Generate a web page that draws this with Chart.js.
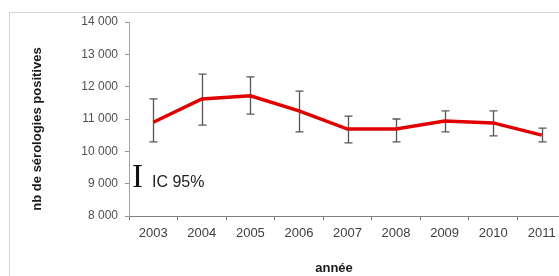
<!DOCTYPE html>
<html>
<head>
<meta charset="utf-8">
<script src="https://cdn.jsdelivr.net/npm/chart.js@4"></script>
<style>
  html, body { margin: 0; padding: 0; background: #fff; overflow: hidden; }
  #wrap { width: 600px; height: 276px; }
</style>
</head>
<body>
<div id="wrap"><canvas id="c" width="600" height="276"></canvas></div>
<script>
// Positive serologies per year, with 95% confidence interval bounds
const years = ['2003', '2004', '2005', '2006', '2007', '2008', '2009', '2010', '2011'];
const seroCounts = [10900, 11620, 11720, 11250, 10690, 10690, 10940, 10880, 10500];
const ciLow = [10290, 10810, 11150, 10600, 10260, 10290, 10600, 10480, 10290];
const ciHigh = [11620, 12390, 12300, 11860, 11090, 11000, 11250, 11250, 10720];
const yTicks = [8000, 9000, 10000, 11000, 12000, 13000, 14000];

const yTitle = 'nb de sérologies positives';
const xTitle = 'année';
const ciLabel = 'IC 95%';

const fmt = v => String(v).replace(/\B(?=(\d{3})+$)/, ' ');

// frame, titles, CI legend and the error bars (drawn under the line)
const extras = {
  id: 'extras',
  beforeDraw(chart) {
    const ctx = chart.ctx;
    ctx.save();
    ctx.strokeStyle = '#d4d4d4';
    ctx.lineWidth = 1;
    ctx.strokeRect(9.5, 12.5, 800, 400);
    ctx.restore();
  },
  beforeDatasetsDraw(chart) {
    const ctx = chart.ctx;
    const xs = chart.scales.x, ys = chart.scales.y;
    ctx.save();
    ctx.strokeStyle = '#555';
    ctx.lineWidth = 1.3;
    years.forEach((_, i) => {
      const x = Math.round(xs.getPixelForValue(i)) + 0.5;
      const lo = ys.getPixelForValue(ciLow[i]);
      const hi = ys.getPixelForValue(ciHigh[i]);
      ctx.beginPath();
      ctx.moveTo(x, lo); ctx.lineTo(x, hi);
      ctx.moveTo(x - 4, lo); ctx.lineTo(x + 4, lo);
      ctx.moveTo(x - 4, hi); ctx.lineTo(x + 4, hi);
      ctx.stroke();
    });
    ctx.restore();
  },
  afterDraw(chart) {
    const ctx = chart.ctx;
    ctx.save();
    ctx.fillStyle = '#1a1a1a';
    ctx.textAlign = 'center';
    ctx.textBaseline = 'middle';
    ctx.font = 'bold 13px "Liberation Sans", Arial, sans-serif';
    ctx.fillText(xTitle, 334, 268);
    ctx.translate(37, 129);
    ctx.rotate(-Math.PI / 2);
    ctx.fillText(yTitle, 0, 0);
    ctx.restore();

    ctx.save();
    ctx.fillStyle = '#111';
    ctx.textBaseline = 'alphabetic';
    ctx.textAlign = 'center';
    ctx.font = '33px "Liberation Serif", "Times New Roman", serif';
    ctx.fillText('I', 137.5, 187);
    ctx.textAlign = 'left';
    ctx.fillStyle = '#222';
    ctx.font = '16px "Liberation Sans", Arial, sans-serif';
    ctx.fillText(ciLabel, 152, 187);
    ctx.restore();
  }
};

new Chart(document.getElementById('c'), {
  type: 'line',
  data: {
    labels: years,
    datasets: [{
      data: seroCounts,
      borderColor: '#e00000',
      borderWidth: 3.5,
      pointRadius: 0,
      tension: 0,
      fill: false
    }]
  },
  options: {
    responsive: false,
    animation: false,
    layout: { padding: { top: 22, right: 34, left: 0, bottom: 0 } },
    plugins: { legend: { display: false }, tooltip: { enabled: false } },
    scales: {
      x: {
        offset: true,
        grid: { offset: true, drawOnChartArea: false, color: '#707070', tickLength: 4 },
        border: { color: '#808080' },
        ticks: { color: '#404040', font: { family: '"Liberation Sans", Arial, sans-serif', size: 13 }, padding: 6, maxRotation: 0 },
        afterFit: s => { s.height = 60; }
      },
      y: {
        min: 8000,
        max: 14000,
        afterBuildTicks: s => { s.ticks = yTicks.map(v => ({ value: v })); },
        grid: { drawOnChartArea: false, color: '#7f9cc8', tickLength: 4 },
        border: { color: '#8fa8cc' },
        ticks: { color: '#505050', font: { family: '"Liberation Sans", Arial, sans-serif', size: 12 }, padding: 7, callback: v => fmt(v) },
        afterFit: s => { s.width = 129; }
      }
    }
  },
  plugins: [extras]
});
</script>
</body>
</html>
